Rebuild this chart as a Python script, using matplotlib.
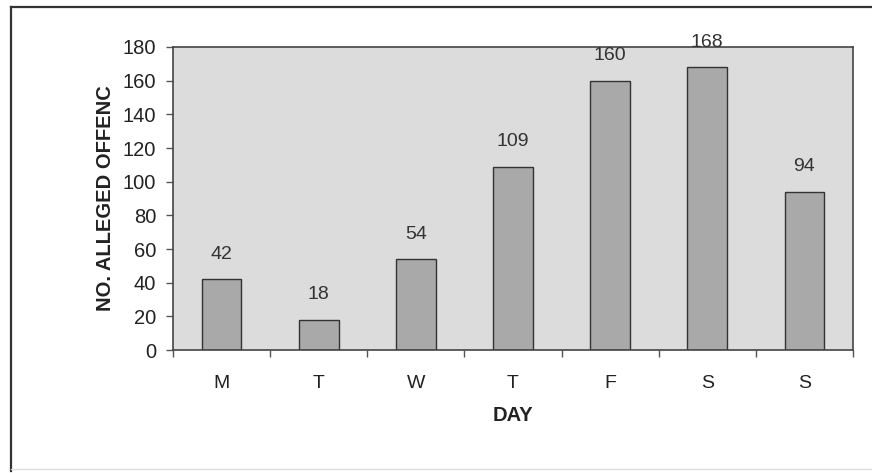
import matplotlib
matplotlib.use("Agg")
import matplotlib.pyplot as plt
from matplotlib.lines import Line2D

days = ["M", "T", "W", "T", "F", "S", "S"]
offences = [42, 18, 54, 109, 160, 168, 94]
y_ticks = [0, 20, 40, 60, 80, 100, 120, 140, 160, 180]

plt.rcParams["font.family"] = ["Liberation Sans", "DejaVu Sans"]
text_color = "#222222"

fig = plt.figure(figsize=(8.72, 4.73), dpi=100)
W, H = 872, 473

# outer chart frame
fig.add_artist(Line2D([11 / W, 1.0], [1 - 7 / H, 1 - 7 / H], color="#333333", lw=1.6))
fig.add_artist(Line2D([11 / W, 11 / W], [1 - 7 / H, 1 - 471 / H], color="#333333", lw=1.6))
fig.add_artist(Line2D([11 / W, 1.0], [1 - 469 / H, 1 - 469 / H], color="#dddddd", lw=1.0))

ax = fig.add_axes([173 / W, 1 - 350 / H, (853 - 173) / W, (350 - 47) / H])
ax.set_facecolor("#dcdcdc")

x = list(range(len(days)))
ax.bar(x, offences, width=0.41, color="#a9a9a9", edgecolor="#333333", linewidth=1.0, zorder=2)

for xi, v in zip(x, offences):
    ax.annotate(str(v), (xi, v), xytext=(0, 18), textcoords="offset points",
                ha="center", va="center", fontsize=14, color="#333333")

ax.set_xlim(-0.5, len(days) - 0.5)
ax.set_ylim(0, 180)
ax.set_yticks(y_ticks)
ax.set_yticklabels([str(t) for t in y_ticks], fontsize=14.5, color=text_color)
ax.set_xticks(x)
ax.set_xticklabels(days, fontsize=14, color=text_color)
ax.set_xticks([i - 0.5 for i in range(len(days) + 1)], minor=True)

ax.tick_params(axis="y", direction="out", length=5, width=1, color="#555555", pad=7)
ax.tick_params(axis="x", which="major", length=0, pad=18)
ax.tick_params(axis="x", which="minor", direction="out", length=5, width=1, color="#555555")

for side in ["left", "bottom", "top", "right"]:
    ax.spines[side].set_color("#444444")
    ax.spines[side].set_linewidth(1.2)

ax.set_xlabel("DAY", fontsize=14.5, fontweight="bold", color=text_color, labelpad=10)
ax.set_ylabel("NO. ALLEGED OFFENC", fontsize=14.5, fontweight="bold", color=text_color, labelpad=6)

fig.savefig("out.png", dpi=100, facecolor="white")
